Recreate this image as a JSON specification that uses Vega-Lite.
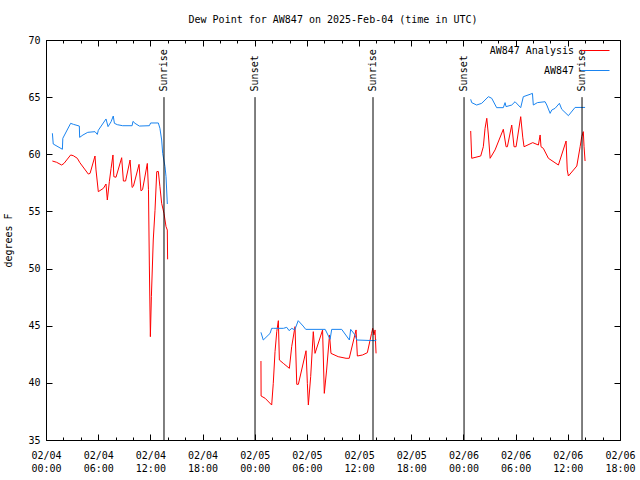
{
  "$schema": "https://vega.github.io/schema/vega-lite/v6.json",
  "width": 574,
  "height": 400,
  "autosize": {"type": "none"},
  "padding": {"left": 46, "top": 40, "right": 20, "bottom": 40},
  "background": "white",
  "config": {
    "view": {"stroke": "black", "strokeWidth": 1},
    "axis": {"domain": false, "grid": false, "tickColor": "black", "tickWidth": 1, "labelColor": "black", "labelFont": "DejaVu Sans Mono", "labelFontSize": 10, "titleFont": "DejaVu Sans Mono", "titleFontSize": 10, "titleFontWeight": "normal", "titleColor": "black"},
    "style": {"guide-label": {"lineBreak": "\n", "lineHeight": 13}}
  },
  "title": {"text": "Dew Point for AW847 on 2025-Feb-04 (time in UTC)", "font": "DejaVu Sans Mono", "fontSize": 10, "fontWeight": "normal", "color": "black", "offset": 10},
  "datasets": {
    "events": [
      {"t": "2025-02-04T13:34:00Z", "label": "Sunrise"},
      {"t": "2025-02-05T00:02:00Z", "label": "Sunset"},
      {"t": "2025-02-05T13:36:00Z", "label": "Sunrise"},
      {"t": "2025-02-06T00:04:00Z", "label": "Sunset"},
      {"t": "2025-02-06T13:38:00Z", "label": "Sunrise"}
    ],
    "obs": [
      {"s": "AW847", "g": 1, "t": "2025-02-04T00:44:00Z", "v": 61.84},
      {"s": "AW847", "g": 1, "t": "2025-02-04T00:50:00Z", "v": 60.9},
      {"s": "AW847", "g": 1, "t": "2025-02-04T01:53:00Z", "v": 60.44},
      {"s": "AW847", "g": 1, "t": "2025-02-04T01:56:00Z", "v": 61.4},
      {"s": "AW847", "g": 1, "t": "2025-02-04T02:50:00Z", "v": 62.71},
      {"s": "AW847", "g": 1, "t": "2025-02-04T03:09:00Z", "v": 62.62},
      {"s": "AW847", "g": 1, "t": "2025-02-04T03:50:00Z", "v": 62.47},
      {"s": "AW847", "g": 1, "t": "2025-02-04T03:52:00Z", "v": 61.48},
      {"s": "AW847", "g": 1, "t": "2025-02-04T04:15:00Z", "v": 61.69},
      {"s": "AW847", "g": 1, "t": "2025-02-04T04:48:00Z", "v": 61.92},
      {"s": "AW847", "g": 1, "t": "2025-02-04T05:38:00Z", "v": 61.98},
      {"s": "AW847", "g": 1, "t": "2025-02-04T05:54:00Z", "v": 61.74},
      {"s": "AW847", "g": 1, "t": "2025-02-04T06:01:00Z", "v": 62.1},
      {"s": "AW847", "g": 1, "t": "2025-02-04T06:54:00Z", "v": 63.09},
      {"s": "AW847", "g": 1, "t": "2025-02-04T07:08:00Z", "v": 62.42},
      {"s": "AW847", "g": 1, "t": "2025-02-04T07:29:00Z", "v": 62.85},
      {"s": "AW847", "g": 1, "t": "2025-02-04T07:44:00Z", "v": 63.35},
      {"s": "AW847", "g": 1, "t": "2025-02-04T07:52:00Z", "v": 62.71},
      {"s": "AW847", "g": 1, "t": "2025-02-04T08:12:00Z", "v": 62.59},
      {"s": "AW847", "g": 1, "t": "2025-02-04T08:49:00Z", "v": 62.5},
      {"s": "AW847", "g": 1, "t": "2025-02-04T09:54:00Z", "v": 62.5},
      {"s": "AW847", "g": 1, "t": "2025-02-04T10:00:00Z", "v": 62.88},
      {"s": "AW847", "g": 1, "t": "2025-02-04T10:14:00Z", "v": 62.71},
      {"s": "AW847", "g": 1, "t": "2025-02-04T10:44:00Z", "v": 62.47},
      {"s": "AW847", "g": 1, "t": "2025-02-04T11:53:00Z", "v": 62.5},
      {"s": "AW847", "g": 1, "t": "2025-02-04T12:02:00Z", "v": 62.74},
      {"s": "AW847", "g": 1, "t": "2025-02-04T12:55:00Z", "v": 62.74},
      {"s": "AW847", "g": 1, "t": "2025-02-04T13:06:00Z", "v": 62.27},
      {"s": "AW847", "g": 1, "t": "2025-02-04T13:18:00Z", "v": 61.25},
      {"s": "AW847", "g": 1, "t": "2025-02-04T13:25:00Z", "v": 60.08},
      {"s": "AW847", "g": 1, "t": "2025-02-04T13:41:00Z", "v": 58.92},
      {"s": "AW847", "g": 1, "t": "2025-02-04T13:48:00Z", "v": 58.04},
      {"s": "AW847", "g": 1, "t": "2025-02-04T13:57:00Z", "v": 55.65},
      {"s": "AW847 Analysis", "g": 1, "t": "2025-02-04T00:44:00Z", "v": 59.41},
      {"s": "AW847 Analysis", "g": 1, "t": "2025-02-04T01:13:00Z", "v": 59.3},
      {"s": "AW847 Analysis", "g": 1, "t": "2025-02-04T01:48:00Z", "v": 59.06},
      {"s": "AW847 Analysis", "g": 1, "t": "2025-02-04T02:04:00Z", "v": 59.2},
      {"s": "AW847 Analysis", "g": 1, "t": "2025-02-04T02:50:00Z", "v": 59.94},
      {"s": "AW847 Analysis", "g": 1, "t": "2025-02-04T03:08:00Z", "v": 59.88},
      {"s": "AW847 Analysis", "g": 1, "t": "2025-02-04T03:36:00Z", "v": 59.65},
      {"s": "AW847 Analysis", "g": 1, "t": "2025-02-04T03:54:00Z", "v": 59.26},
      {"s": "AW847 Analysis", "g": 1, "t": "2025-02-04T04:52:00Z", "v": 58.27},
      {"s": "AW847 Analysis", "g": 1, "t": "2025-02-04T05:04:00Z", "v": 58.33},
      {"s": "AW847 Analysis", "g": 1, "t": "2025-02-04T05:38:00Z", "v": 59.85},
      {"s": "AW847 Analysis", "g": 1, "t": "2025-02-04T05:45:00Z", "v": 58.63},
      {"s": "AW847 Analysis", "g": 1, "t": "2025-02-04T06:01:00Z", "v": 56.73},
      {"s": "AW847 Analysis", "g": 1, "t": "2025-02-04T06:36:00Z", "v": 57.02},
      {"s": "AW847 Analysis", "g": 1, "t": "2025-02-04T06:54:00Z", "v": 57.4},
      {"s": "AW847 Analysis", "g": 1, "t": "2025-02-04T07:03:00Z", "v": 56.0},
      {"s": "AW847 Analysis", "g": 1, "t": "2025-02-04T07:17:00Z", "v": 57.6},
      {"s": "AW847 Analysis", "g": 1, "t": "2025-02-04T07:29:00Z", "v": 58.77},
      {"s": "AW847 Analysis", "g": 1, "t": "2025-02-04T07:42:00Z", "v": 59.94},
      {"s": "AW847 Analysis", "g": 1, "t": "2025-02-04T07:48:00Z", "v": 58.04},
      {"s": "AW847 Analysis", "g": 1, "t": "2025-02-04T08:03:00Z", "v": 57.99},
      {"s": "AW847 Analysis", "g": 1, "t": "2025-02-04T08:42:00Z", "v": 59.7},
      {"s": "AW847 Analysis", "g": 1, "t": "2025-02-04T08:54:00Z", "v": 57.66},
      {"s": "AW847 Analysis", "g": 1, "t": "2025-02-04T09:09:00Z", "v": 57.66},
      {"s": "AW847 Analysis", "g": 1, "t": "2025-02-04T09:40:00Z", "v": 59.5},
      {"s": "AW847 Analysis", "g": 1, "t": "2025-02-04T09:54:00Z", "v": 57.1},
      {"s": "AW847 Analysis", "g": 1, "t": "2025-02-04T10:03:00Z", "v": 57.2},
      {"s": "AW847 Analysis", "g": 1, "t": "2025-02-04T10:42:00Z", "v": 59.12},
      {"s": "AW847 Analysis", "g": 1, "t": "2025-02-04T10:55:00Z", "v": 56.81},
      {"s": "AW847 Analysis", "g": 1, "t": "2025-02-04T11:06:00Z", "v": 56.9},
      {"s": "AW847 Analysis", "g": 1, "t": "2025-02-04T11:39:00Z", "v": 59.2},
      {"s": "AW847 Analysis", "g": 1, "t": "2025-02-04T11:47:00Z", "v": 56.9},
      {"s": "AW847 Analysis", "g": 1, "t": "2025-02-04T11:53:00Z", "v": 50.31},
      {"s": "AW847 Analysis", "g": 1, "t": "2025-02-04T12:00:00Z", "v": 44.04},
      {"s": "AW847 Analysis", "g": 1, "t": "2025-02-04T12:07:00Z", "v": 47.54},
      {"s": "AW847 Analysis", "g": 1, "t": "2025-02-04T12:20:00Z", "v": 52.5},
      {"s": "AW847 Analysis", "g": 1, "t": "2025-02-04T12:32:00Z", "v": 55.1},
      {"s": "AW847 Analysis", "g": 1, "t": "2025-02-04T12:44:00Z", "v": 58.48},
      {"s": "AW847 Analysis", "g": 1, "t": "2025-02-04T12:55:00Z", "v": 58.5},
      {"s": "AW847 Analysis", "g": 1, "t": "2025-02-04T13:06:00Z", "v": 57.16},
      {"s": "AW847 Analysis", "g": 1, "t": "2025-02-04T13:18:00Z", "v": 55.71},
      {"s": "AW847 Analysis", "g": 1, "t": "2025-02-04T13:34:00Z", "v": 54.83},
      {"s": "AW847 Analysis", "g": 1, "t": "2025-02-04T13:48:00Z", "v": 53.67},
      {"s": "AW847 Analysis", "g": 1, "t": "2025-02-04T13:57:00Z", "v": 53.37},
      {"s": "AW847 Analysis", "g": 1, "t": "2025-02-04T13:59:00Z", "v": 50.81},
      {"s": "AW847", "g": 2, "t": "2025-02-05T00:43:00Z", "v": 44.42},
      {"s": "AW847", "g": 2, "t": "2025-02-05T00:59:00Z", "v": 43.75},
      {"s": "AW847", "g": 2, "t": "2025-02-05T01:46:00Z", "v": 44.33},
      {"s": "AW847", "g": 2, "t": "2025-02-05T01:57:00Z", "v": 44.77},
      {"s": "AW847", "g": 2, "t": "2025-02-05T02:09:00Z", "v": 44.77},
      {"s": "AW847", "g": 2, "t": "2025-02-05T03:18:00Z", "v": 44.77},
      {"s": "AW847", "g": 2, "t": "2025-02-05T03:41:00Z", "v": 44.86},
      {"s": "AW847", "g": 2, "t": "2025-02-05T03:57:00Z", "v": 44.57},
      {"s": "AW847", "g": 2, "t": "2025-02-05T04:16:00Z", "v": 44.77},
      {"s": "AW847", "g": 2, "t": "2025-02-05T04:36:00Z", "v": 44.63},
      {"s": "AW847", "g": 2, "t": "2025-02-05T05:00:00Z", "v": 45.44},
      {"s": "AW847", "g": 2, "t": "2025-02-05T05:34:00Z", "v": 44.97},
      {"s": "AW847", "g": 2, "t": "2025-02-05T05:52:00Z", "v": 44.68},
      {"s": "AW847", "g": 2, "t": "2025-02-05T08:06:00Z", "v": 44.68},
      {"s": "AW847", "g": 2, "t": "2025-02-05T08:40:00Z", "v": 43.81},
      {"s": "AW847", "g": 2, "t": "2025-02-05T08:51:00Z", "v": 44.68},
      {"s": "AW847", "g": 2, "t": "2025-02-05T10:00:00Z", "v": 44.68},
      {"s": "AW847", "g": 2, "t": "2025-02-05T10:53:00Z", "v": 43.75},
      {"s": "AW847", "g": 2, "t": "2025-02-05T11:02:00Z", "v": 44.68},
      {"s": "AW847", "g": 2, "t": "2025-02-05T11:32:00Z", "v": 44.19},
      {"s": "AW847", "g": 2, "t": "2025-02-05T11:44:00Z", "v": 43.75},
      {"s": "AW847", "g": 2, "t": "2025-02-05T13:50:00Z", "v": 43.69},
      {"s": "AW847", "g": 2, "t": "2025-02-05T14:00:00Z", "v": 43.75},
      {"s": "AW847 Analysis", "g": 2, "t": "2025-02-05T00:43:00Z", "v": 41.91},
      {"s": "AW847 Analysis", "g": 2, "t": "2025-02-05T00:44:00Z", "v": 38.85},
      {"s": "AW847 Analysis", "g": 2, "t": "2025-02-05T01:12:00Z", "v": 38.65},
      {"s": "AW847 Analysis", "g": 2, "t": "2025-02-05T01:57:00Z", "v": 38.06},
      {"s": "AW847 Analysis", "g": 2, "t": "2025-02-05T02:08:00Z", "v": 39.96},
      {"s": "AW847 Analysis", "g": 2, "t": "2025-02-05T02:20:00Z", "v": 42.73},
      {"s": "AW847 Analysis", "g": 2, "t": "2025-02-05T02:32:00Z", "v": 44.48},
      {"s": "AW847 Analysis", "g": 2, "t": "2025-02-05T02:43:00Z", "v": 45.44},
      {"s": "AW847 Analysis", "g": 2, "t": "2025-02-05T02:50:00Z", "v": 42.0},
      {"s": "AW847 Analysis", "g": 2, "t": "2025-02-05T03:17:00Z", "v": 41.71},
      {"s": "AW847 Analysis", "g": 2, "t": "2025-02-05T03:59:00Z", "v": 41.27},
      {"s": "AW847 Analysis", "g": 2, "t": "2025-02-05T04:15:00Z", "v": 43.17},
      {"s": "AW847 Analysis", "g": 2, "t": "2025-02-05T04:38:00Z", "v": 44.92},
      {"s": "AW847 Analysis", "g": 2, "t": "2025-02-05T04:50:00Z", "v": 39.87},
      {"s": "AW847 Analysis", "g": 2, "t": "2025-02-05T05:01:00Z", "v": 39.87},
      {"s": "AW847 Analysis", "g": 2, "t": "2025-02-05T05:54:00Z", "v": 42.81},
      {"s": "AW847 Analysis", "g": 2, "t": "2025-02-05T06:03:00Z", "v": 39.96},
      {"s": "AW847 Analysis", "g": 2, "t": "2025-02-05T06:10:00Z", "v": 38.06},
      {"s": "AW847 Analysis", "g": 2, "t": "2025-02-05T06:26:00Z", "v": 40.54},
      {"s": "AW847 Analysis", "g": 2, "t": "2025-02-05T06:44:00Z", "v": 44.48},
      {"s": "AW847 Analysis", "g": 2, "t": "2025-02-05T06:56:00Z", "v": 42.58},
      {"s": "AW847 Analysis", "g": 2, "t": "2025-02-05T07:48:00Z", "v": 44.63},
      {"s": "AW847 Analysis", "g": 2, "t": "2025-02-05T08:00:00Z", "v": 39.08},
      {"s": "AW847 Analysis", "g": 2, "t": "2025-02-05T08:16:00Z", "v": 41.12},
      {"s": "AW847 Analysis", "g": 2, "t": "2025-02-05T08:36:00Z", "v": 44.19},
      {"s": "AW847 Analysis", "g": 2, "t": "2025-02-05T08:46:00Z", "v": 42.58},
      {"s": "AW847 Analysis", "g": 2, "t": "2025-02-05T09:36:00Z", "v": 42.29},
      {"s": "AW847 Analysis", "g": 2, "t": "2025-02-05T10:30:00Z", "v": 42.15},
      {"s": "AW847 Analysis", "g": 2, "t": "2025-02-05T10:52:00Z", "v": 42.15},
      {"s": "AW847 Analysis", "g": 2, "t": "2025-02-05T11:39:00Z", "v": 44.63},
      {"s": "AW847 Analysis", "g": 2, "t": "2025-02-05T11:48:00Z", "v": 42.35},
      {"s": "AW847 Analysis", "g": 2, "t": "2025-02-05T12:24:00Z", "v": 42.44},
      {"s": "AW847 Analysis", "g": 2, "t": "2025-02-05T12:57:00Z", "v": 42.64},
      {"s": "AW847 Analysis", "g": 2, "t": "2025-02-05T13:26:00Z", "v": 44.33},
      {"s": "AW847 Analysis", "g": 2, "t": "2025-02-05T13:34:00Z", "v": 44.77},
      {"s": "AW847 Analysis", "g": 2, "t": "2025-02-05T13:43:00Z", "v": 44.2},
      {"s": "AW847 Analysis", "g": 2, "t": "2025-02-05T13:50:00Z", "v": 44.63},
      {"s": "AW847 Analysis", "g": 2, "t": "2025-02-05T13:57:00Z", "v": 42.58},
      {"s": "AW847", "g": 3, "t": "2025-02-06T00:50:00Z", "v": 64.81},
      {"s": "AW847", "g": 3, "t": "2025-02-06T00:57:00Z", "v": 64.52},
      {"s": "AW847", "g": 3, "t": "2025-02-06T01:31:00Z", "v": 64.31},
      {"s": "AW847", "g": 3, "t": "2025-02-06T02:06:00Z", "v": 64.46},
      {"s": "AW847", "g": 3, "t": "2025-02-06T02:52:00Z", "v": 65.04},
      {"s": "AW847", "g": 3, "t": "2025-02-06T03:15:00Z", "v": 64.9},
      {"s": "AW847", "g": 3, "t": "2025-02-06T03:49:00Z", "v": 64.08},
      {"s": "AW847", "g": 3, "t": "2025-02-06T04:35:00Z", "v": 64.08},
      {"s": "AW847", "g": 3, "t": "2025-02-06T04:47:00Z", "v": 64.52},
      {"s": "AW847", "g": 3, "t": "2025-02-06T04:54:00Z", "v": 64.17},
      {"s": "AW847", "g": 3, "t": "2025-02-06T05:33:00Z", "v": 64.31},
      {"s": "AW847", "g": 3, "t": "2025-02-06T05:56:00Z", "v": 64.6},
      {"s": "AW847", "g": 3, "t": "2025-02-06T06:35:00Z", "v": 64.08},
      {"s": "AW847", "g": 3, "t": "2025-02-06T06:53:00Z", "v": 65.04},
      {"s": "AW847", "g": 3, "t": "2025-02-06T07:40:00Z", "v": 65.25},
      {"s": "AW847", "g": 3, "t": "2025-02-06T07:56:00Z", "v": 65.33},
      {"s": "AW847", "g": 3, "t": "2025-02-06T08:02:00Z", "v": 64.31},
      {"s": "AW847", "g": 3, "t": "2025-02-06T08:30:00Z", "v": 64.52},
      {"s": "AW847", "g": 3, "t": "2025-02-06T09:23:00Z", "v": 64.6},
      {"s": "AW847", "g": 3, "t": "2025-02-06T09:35:00Z", "v": 64.31},
      {"s": "AW847", "g": 3, "t": "2025-02-06T09:58:00Z", "v": 63.58},
      {"s": "AW847", "g": 3, "t": "2025-02-06T10:09:00Z", "v": 63.87},
      {"s": "AW847", "g": 3, "t": "2025-02-06T10:32:00Z", "v": 64.02},
      {"s": "AW847", "g": 3, "t": "2025-02-06T11:02:00Z", "v": 64.46},
      {"s": "AW847", "g": 3, "t": "2025-02-06T11:18:00Z", "v": 63.94},
      {"s": "AW847", "g": 3, "t": "2025-02-06T12:04:00Z", "v": 63.38},
      {"s": "AW847", "g": 3, "t": "2025-02-06T12:50:00Z", "v": 64.1},
      {"s": "AW847", "g": 3, "t": "2025-02-06T13:59:00Z", "v": 64.1},
      {"s": "AW847 Analysis", "g": 3, "t": "2025-02-06T00:50:00Z", "v": 62.04},
      {"s": "AW847 Analysis", "g": 3, "t": "2025-02-06T00:57:00Z", "v": 59.65},
      {"s": "AW847 Analysis", "g": 3, "t": "2025-02-06T01:59:00Z", "v": 59.85},
      {"s": "AW847 Analysis", "g": 3, "t": "2025-02-06T02:17:00Z", "v": 60.66},
      {"s": "AW847 Analysis", "g": 3, "t": "2025-02-06T02:29:00Z", "v": 62.27},
      {"s": "AW847 Analysis", "g": 3, "t": "2025-02-06T02:41:00Z", "v": 63.15},
      {"s": "AW847 Analysis", "g": 3, "t": "2025-02-06T02:52:00Z", "v": 61.69},
      {"s": "AW847 Analysis", "g": 3, "t": "2025-02-06T03:04:00Z", "v": 59.65},
      {"s": "AW847 Analysis", "g": 3, "t": "2025-02-06T03:38:00Z", "v": 60.38},
      {"s": "AW847 Analysis", "g": 3, "t": "2025-02-06T04:35:00Z", "v": 62.19},
      {"s": "AW847 Analysis", "g": 3, "t": "2025-02-06T04:54:00Z", "v": 60.66},
      {"s": "AW847 Analysis", "g": 3, "t": "2025-02-06T05:03:00Z", "v": 60.66},
      {"s": "AW847 Analysis", "g": 3, "t": "2025-02-06T05:33:00Z", "v": 62.56},
      {"s": "AW847 Analysis", "g": 3, "t": "2025-02-06T05:49:00Z", "v": 60.66},
      {"s": "AW847 Analysis", "g": 3, "t": "2025-02-06T06:03:00Z", "v": 60.66},
      {"s": "AW847 Analysis", "g": 3, "t": "2025-02-06T06:35:00Z", "v": 63.29},
      {"s": "AW847 Analysis", "g": 3, "t": "2025-02-06T06:49:00Z", "v": 61.5},
      {"s": "AW847 Analysis", "g": 3, "t": "2025-02-06T06:58:00Z", "v": 60.66},
      {"s": "AW847 Analysis", "g": 3, "t": "2025-02-06T07:58:00Z", "v": 61.02},
      {"s": "AW847 Analysis", "g": 3, "t": "2025-02-06T08:37:00Z", "v": 60.81},
      {"s": "AW847 Analysis", "g": 3, "t": "2025-02-06T08:49:00Z", "v": 61.69},
      {"s": "AW847 Analysis", "g": 3, "t": "2025-02-06T08:55:00Z", "v": 60.66},
      {"s": "AW847 Analysis", "g": 3, "t": "2025-02-06T09:11:00Z", "v": 60.52},
      {"s": "AW847 Analysis", "g": 3, "t": "2025-02-06T09:46:00Z", "v": 59.65},
      {"s": "AW847 Analysis", "g": 3, "t": "2025-02-06T10:55:00Z", "v": 59.06},
      {"s": "AW847 Analysis", "g": 3, "t": "2025-02-06T11:48:00Z", "v": 61.16},
      {"s": "AW847 Analysis", "g": 3, "t": "2025-02-06T11:56:00Z", "v": 58.63},
      {"s": "AW847 Analysis", "g": 3, "t": "2025-02-06T12:04:00Z", "v": 58.1},
      {"s": "AW847 Analysis", "g": 3, "t": "2025-02-06T13:02:00Z", "v": 58.97},
      {"s": "AW847 Analysis", "g": 3, "t": "2025-02-06T13:25:00Z", "v": 60.66},
      {"s": "AW847 Analysis", "g": 3, "t": "2025-02-06T13:36:00Z", "v": 61.54},
      {"s": "AW847 Analysis", "g": 3, "t": "2025-02-06T13:47:00Z", "v": 61.98},
      {"s": "AW847 Analysis", "g": 3, "t": "2025-02-06T13:52:00Z", "v": 60.66},
      {"s": "AW847 Analysis", "g": 3, "t": "2025-02-06T13:59:00Z", "v": 59.41}
    ]
  },
  "layer": [
    {
      "data": {"name": "obs"},
      "transform": [{"filter": "datum.s == 'AW847 Analysis'"}],
      "mark": {"type": "line", "strokeWidth": 1},
      "encoding": {
        "x": {
          "field": "t", "type": "temporal",
          "scale": {"type": "utc", "domain": [{"year": 2025, "month": 2, "date": 4, "hours": 0, "utc": true}, {"year": 2025, "month": 2, "date": 6, "hours": 18, "utc": true}]},
          "axis": {
            "orient": "bottom", "title": null,
            "values": [1738627200000, 1738648800000, 1738670400000, 1738692000000, 1738713600000, 1738735200000, 1738756800000, 1738778400000, 1738800000000, 1738821600000, 1738843200000, 1738864800000],
            "format": "%m/%d\n%H:%M",
            "tickSize": -6, "labelPadding": 16, "labelFlush": false, "labelOverlap": false, "labelBound": false
          }
        },
        "y": {
          "field": "v", "type": "quantitative",
          "scale": {"domain": [35, 70], "nice": false, "zero": false},
          "axis": {"orient": "left", "title": "degrees F", "values": [35, 40, 45, 50, 55, 60, 65, 70], "tickSize": -6, "labelPadding": 12, "titlePadding": 14}
        },
        "color": {
          "field": "s", "type": "nominal",
          "scale": {"domain": ["AW847 Analysis", "AW847"], "range": ["#ff0000", "#1a84f0"]},
          "legend": {"orient": "none", "legendX": 535, "legendY": -4, "title": null, "symbolType": "stroke", "symbolSize": 784, "symbolStrokeWidth": 1, "labelAlign": "right", "labelOffset": -36, "labelFont": "DejaVu Sans Mono", "labelFontSize": 10, "labelColor": "black", "rowPadding": -15, "padding": 0}
        },
        "detail": {"field": "g", "type": "nominal"}
      }
    },
    {
      "data": {"name": "obs"},
      "transform": [{"filter": "datum.s == 'AW847'"}],
      "mark": {"type": "line", "strokeWidth": 1},
      "encoding": {
        "x": {
          "field": "t", "type": "temporal",
          "axis": {
            "orient": "bottom", "title": null, "labels": false, "tickSize": -3,
            "values": [1738627200000, 1738634400000, 1738641600000, 1738648800000, 1738656000000, 1738663200000, 1738670400000, 1738677600000, 1738684800000, 1738692000000, 1738699200000, 1738706400000, 1738713600000, 1738720800000, 1738728000000, 1738735200000, 1738742400000, 1738749600000, 1738756800000, 1738764000000, 1738771200000, 1738778400000, 1738785600000, 1738792800000, 1738800000000, 1738807200000, 1738814400000, 1738821600000, 1738828800000, 1738836000000, 1738843200000, 1738850400000, 1738857600000, 1738864800000]
          }
        },
        "y": {"field": "v", "type": "quantitative", "axis": {"orient": "right", "title": null, "labels": false, "values": [35, 40, 45, 50, 55, 60, 65, 70], "tickSize": -6}},
        "color": {
          "field": "s", "type": "nominal",
          "scale": {"domain": ["AW847 Analysis", "AW847"], "range": ["#ff0000", "#1a84f0"]},
          "legend": {"orient": "none", "legendX": 535, "legendY": -4, "title": null, "symbolType": "stroke", "symbolSize": 784, "symbolStrokeWidth": 1, "labelAlign": "right", "labelOffset": -36, "labelFont": "DejaVu Sans Mono", "labelFontSize": 10, "labelColor": "black", "rowPadding": -15, "padding": 0}
        },
        "detail": {"field": "g", "type": "nominal"}
      }
    },
    {
      "data": {"name": "events"},
      "mark": {"type": "rule", "color": "black", "strokeWidth": 1},
      "encoding": {
        "x": {
          "field": "t", "type": "temporal",
          "axis": {
            "orient": "top", "title": null, "labels": false, "tickSize": -6,
            "values": [1738627200000, 1738648800000, 1738670400000, 1738692000000, 1738713600000, 1738735200000, 1738756800000, 1738778400000, 1738800000000, 1738821600000, 1738843200000, 1738864800000]
          }
        },
        "y": {"datum": 35, "type": "quantitative", "axis": null},
        "y2": {"datum": 65}
      }
    },
    {
      "data": {"name": "events"},
      "mark": {"type": "text", "angle": 270, "align": "left", "baseline": "middle", "font": "DejaVu Sans Mono", "fontSize": 10, "color": "black"},
      "encoding": {
        "x": {
          "field": "t", "type": "temporal",
          "axis": {
            "orient": "top", "title": null, "labels": false, "tickSize": -3,
            "values": [1738627200000, 1738634400000, 1738641600000, 1738648800000, 1738656000000, 1738663200000, 1738670400000, 1738677600000, 1738684800000, 1738692000000, 1738699200000, 1738706400000, 1738713600000, 1738720800000, 1738728000000, 1738735200000, 1738742400000, 1738749600000, 1738756800000, 1738764000000, 1738771200000, 1738778400000, 1738785600000, 1738792800000, 1738800000000, 1738807200000, 1738814400000, 1738821600000, 1738828800000, 1738836000000, 1738843200000, 1738850400000, 1738857600000, 1738864800000]
          }
        },
        "y": {"datum": 65.5, "type": "quantitative", "axis": null},
        "text": {"field": "label", "type": "nominal"}
      }
    }
  ],
  "resolve": {"axis": {"x": "independent", "y": "independent"}}
}
